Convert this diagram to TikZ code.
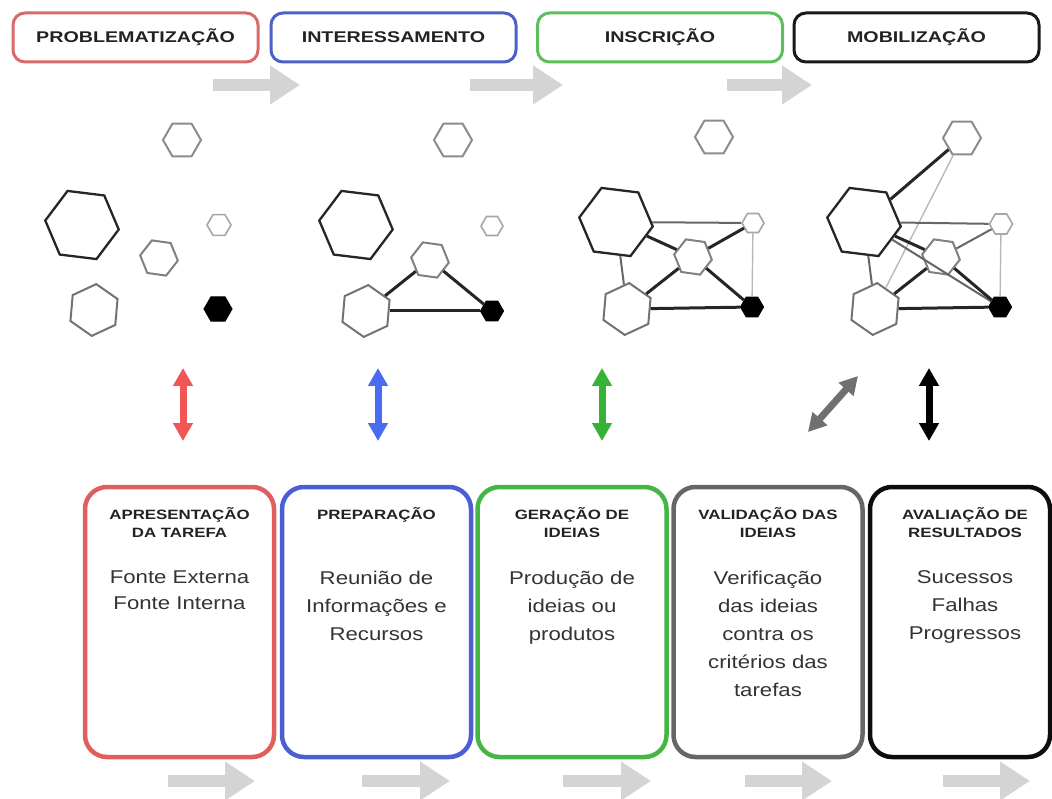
\documentclass[tikz,border=0pt]{standalone}
\usepackage{fontspec}
\setmainfont{Liberation Sans}
\newfontfamily\hdrfont{Liberation Sans}[FakeStretch=1.27]
\newfontfamily\ttlfont{Liberation Sans}[FakeStretch=1.25]
\newfontfamily\bodyfont{Liberation Sans}[FakeStretch=1.2]
\usetikzlibrary{shapes.geometric,arrows.meta}
\definecolor{hRed}{HTML}{D96A6A}
\definecolor{hBlue}{HTML}{4D5FC8}
\definecolor{hGreen}{HTML}{5CBF5C}
\definecolor{bRed}{HTML}{E05E5E}
\definecolor{bBlue}{HTML}{4A5FD6}
\definecolor{bGreen}{HTML}{45B545}
\definecolor{bGray}{HTML}{666666}
\definecolor{aRed}{HTML}{F25555}
\definecolor{aBlue}{HTML}{4A6CF2}
\definecolor{aGreen}{HTML}{36B336}
\definecolor{aGray}{HTML}{707070}
\definecolor{blockgray}{HTML}{D4D4D4}
\definecolor{txt}{HTML}{222222}
\definecolor{bodytxt}{HTML}{333333}
\begin{document}
\begin{tikzpicture}[x=1pt,y=-1pt,
  hdr/.style={draw, rounded corners=12pt, line width=3pt, minimum width=245pt, minimum height=49pt, inner sep=0pt, text=txt, font=\hdrfont\bfseries\fontsize{15.5}{18}\selectfont},
  bbox/.style={draw, rounded corners=22pt, line width=4.5pt, minimum width=189pt, minimum height=270pt, inner sep=0pt},
  btitle/.style={anchor=north, align=center, inner sep=0pt, text=txt, font=\ttlfont\bfseries\fontsize{13.5}{18.5}\selectfont},
  bbody/.style={anchor=north, align=center, inner sep=0pt, text=bodytxt, font=\bodyfont\fontsize{18.5}{28}\selectfont},
  hexn/.style={regular polygon, regular polygon sides=6, fill=white, inner sep=0pt, minimum size=#1},
  hbig/.style={hexn=74pt, draw=black!85, line width=2.3pt, shape border rotate=-7},
  hmid/.style={hexn=38pt, draw=black!50, line width=2pt},
  hbl/.style={hexn=52pt, draw=black!55, line width=2pt, shape border rotate=25},
  htiny/.style={hexn=#1, draw=black!35, line width=1.6pt},
  hblack/.style={hexn=#1, draw=black, fill=black, line width=1pt},
  ethick/.style={line width=3pt, draw=black!85},
  emed/.style={line width=2pt, draw=black!60},
  elight/.style={line width=1.4pt, draw=black!28},
  block/.style={line width=12pt, draw=blockgray, -{Triangle[length=30pt,width=37pt]}},
  dbl/.style={line width=7pt, {Triangle[length=18pt,width=19pt]}-{Triangle[length=18pt,width=19pt]}}
]
\useasboundingbox (0,0) rectangle (1052,799);

% header boxes
\node[hdr, draw=hRed] (h1) at (135.5,37.5) {PROBLEMATIZAÇÃO};
\node[hdr, draw=hBlue] (h2) at (393.5,37.5) {INTERESSAMENTO};
\node[hdr, draw=hGreen] (h3) at (660,37.5) {INSCRIÇÃO};
\node[hdr, draw=black!90] (h4) at (916.5,37.5) {MOBILIZAÇÃO};

% top block arrows
\draw[block] (213,85) -- (300,85);
\draw[block] (470,85) -- (563,85);
\draw[block] (727,85) -- (812,85);

% panel 1
\node[hmid, draw=black!45] (p1t) at (182,140) {};
\node[hbig] (p1b) at (82,225) {};
\node[hmid, shape border rotate=-8] (p1m) at (159,258) {};
\node[htiny=24pt] (p1s) at (219,225) {};
\node[hblack=28pt] (p1k) at (218,309) {};
\node[hbl] (p1l) at (94,310) {};

% panel 2
\node[hmid, draw=black!45] (p2t) at (453,140) {};
\node[hbig] (p2b) at (356,225) {};
\node[htiny=22pt] (p2s) at (492,226) {};
\node[hmid, shape border rotate=-8] (p2m) at (430,260) {};
\node[hbl] (p2l) at (366,311) {};
\node[hblack=23pt] (p2k) at (492,311) {};
\draw[ethick] (p2l) -- (p2m);
\draw[ethick] (p2m) -- (p2k);
\draw[ethick] (p2l) -- (p2k);

% panel 3
\node[hmid, draw=black!45] (p3t) at (714,137) {};
\node[hbig] (p3b) at (616,222) {};
\node[htiny=22pt] (p3s) at (753,223) {};
\node[hmid, shape border rotate=-8] (p3m) at (693,257) {};
\node[hbl] (p3l) at (627,309) {};
\node[hblack=23pt] (p3k) at (752,307) {};
\draw[emed] (p3b) -- (p3s);
\draw[emed] (p3b) -- (p3l);
\draw[ethick] (p3b) -- (p3m);
\draw[ethick] (p3m) -- (p3s);
\draw[ethick] (p3m) -- (p3k);
\draw[ethick] (p3l) -- (p3m);
\draw[ethick] (p3l) -- (p3k);
\draw[elight] (p3s) -- (p3k);

% panel 4
\node[hmid, draw=black!45] (p4t) at (962,138) {};
\node[hbig] (p4b) at (864,222) {};
\node[htiny=23pt] (p4s) at (1001,224) {};
\node[hmid, shape border rotate=-8] (p4m) at (941,257) {};
\node[hbl] (p4l) at (875,309) {};
\node[hblack=23pt] (p4k) at (1000,307) {};
\draw[elight] (p4l) -- (p4t);
\draw[emed] (p4b) -- (p4s);
\draw[emed] (p4m) -- (p4s);
\draw[emed] (p4b) -- (p4k);
\draw[emed] (p4b) -- (p4l);
\draw[ethick] (p4b) -- (p4t);
\draw[ethick] (p4b) -- (p4m);
\draw[ethick] (p4l) -- (p4m);
\draw[ethick] (p4m) -- (p4k);
\draw[ethick] (p4l) -- (p4k);
\draw[elight] (p4s) -- (p4k);

% double arrows
\coordinate (a1t) at (183,368); \coordinate (a1b) at (183,441);
\coordinate (a2t) at (378,368); \coordinate (a2b) at (378,441);
\coordinate (a3t) at (602,368); \coordinate (a3b) at (602,441);
\coordinate (a4t) at (858,376); \coordinate (a4b) at (808,432);
\coordinate (a5t) at (929,368); \coordinate (a5b) at (929,441);
\draw[dbl, aRed] (a1t) -- (a1b);
\draw[dbl, aBlue] (a2t) -- (a2b);
\draw[dbl, aGreen] (a3t) -- (a3b);
\draw[dbl, aGray] (a4t) -- (a4b);
\draw[dbl, black] (a5t) -- (a5b);

% bottom boxes
\node[bbox, draw=bRed] (b1) at (179.5,622) {};
\node[bbox, draw=bBlue] (b2) at (376.5,622) {};
\node[bbox, draw=bGreen] (b3) at (572,622) {};
\node[bbox, draw=bGray] (b4) at (768,622) {};
\node[bbox, draw=black!95, minimum width=180pt] (b5) at (960,622) {};

\node[btitle] (t1) at (179.5,507) {APRESENTAÇÃO\\DA TAREFA};
\node[btitle] (t2) at (376.5,507) {PREPARAÇÃO};
\node[btitle] (t3) at (572,507) {GERAÇÃO DE\\IDEIAS};
\node[btitle] (t4) at (768,507) {VALIDAÇÃO DAS\\IDEIAS};
\node[btitle] (t5) at (965,507) {AVALIAÇÃO DE\\RESULTADOS};

\node[bbody, font=\bodyfont\fontsize{18.5}{26}\selectfont] (d1) at (179.5,570.5) {Fonte Externa\\Fonte Interna};
\node[bbody] (d2) at (376.5,570.5) {Reunião de\\Informações e\\Recursos};
\node[bbody] (d3) at (572,570.5) {Produção de\\ideias ou\\produtos};
\node[bbody] (d4) at (768,570.5) {Verificação\\das ideias\\contra os\\critérios das\\tarefas};
\node[bbody] (d5) at (965,570.5) {Sucessos\\Falhas\\Progressos};

% bottom block arrows
\draw[block] (168,781) -- (255,781);
\draw[block] (362,781) -- (450,781);
\draw[block] (563,781) -- (651,781);
\draw[block] (745,781) -- (832,781);
\draw[block] (943,781) -- (1030,781);
\end{tikzpicture}
\end{document}
